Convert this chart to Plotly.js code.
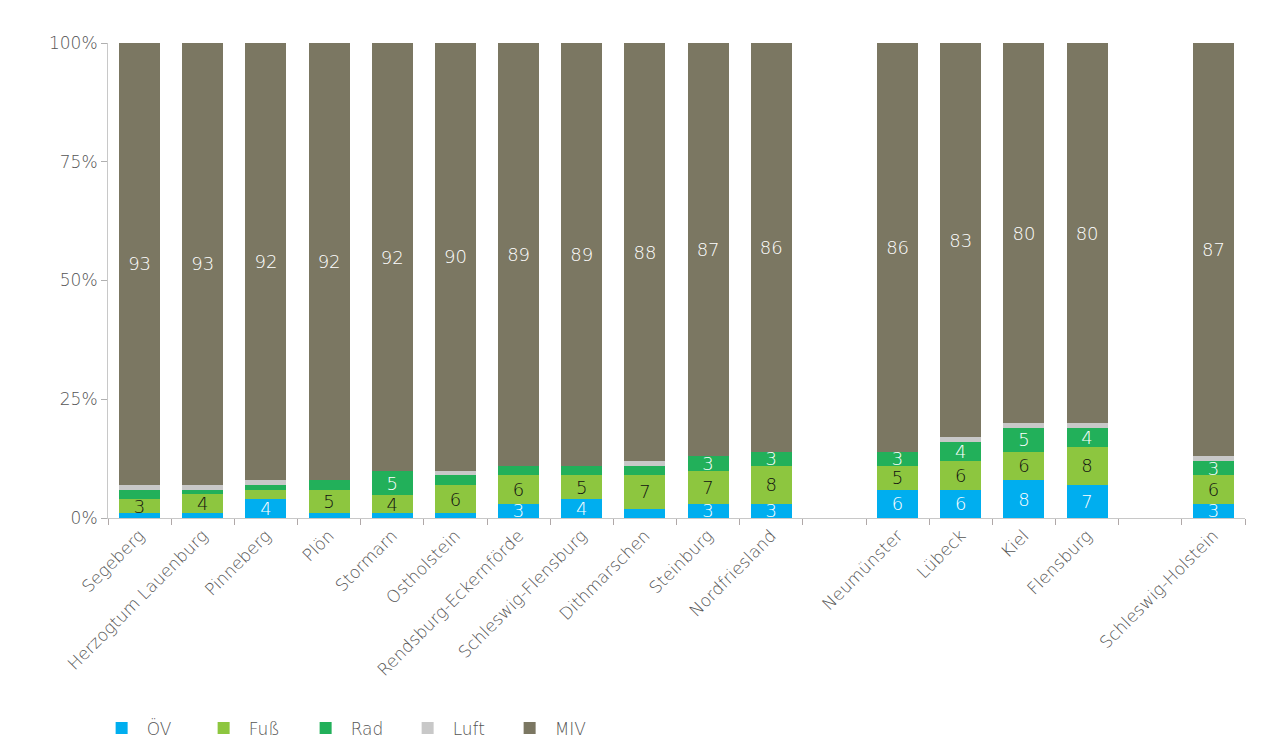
<!DOCTYPE html>
<html>
<head>
<meta charset="utf-8">
<script src="https://cdn.plot.ly/plotly-3.0.1.min.js"></script>
<style>html,body{margin:0;padding:0;background:#fff;}#chart{width:1269px;height:745px;}</style>
</head>
<body>
<div id="chart"></div>
<script>
const categories = ["Segeberg","Herzogtum Lauenburg","Pinneberg","Plön","Stormarn","Ostholstein","Rendsburg-Eckernförde","Schleswig-Flensburg","Dithmarschen","Steinburg","Nordfriesland"," ","Neumünster","Lübeck","Kiel","Flensburg","  ","Schleswig-Holstein"];
const oev  = [1, 1, 4, 1, 1, 1, 3, 4, 2, 3, 3, null, 6, 6, 8, 7, null, 3];
const fuss = [3, 4, 2, 5, 4, 6, 6, 5, 7, 7, 8, null, 5, 6, 6, 8, null, 6];
const rad  = [2, 1, 1, 2, 5, 2, 2, 2, 2, 3, 3, null, 3, 4, 5, 4, null, 3];
const luft = [1, 1, 1, 0, 0, 1, 0, 0, 1, 0, 0, null, 0, 1, 1, 1, null, 1];
const miv  = [93, 93, 92, 92, 92, 90, 89, 89, 88, 87, 86, null, 86, 83, 80, 80, null, 87];
const seriesNames = ["ÖV","Fuß","Rad","Luft","MIV"];
const colors = ["#00aeef","#8dc63f","#22b05a","#c8c8c8","#7b7762"];
const textColors = ["#ffffff","#111111","#ffffff","#333333","#ffffff"];
const allSeries = [oev, fuss, rad, luft, miv];

const FONT = "DejaVu Sans, Open Sans, sans-serif";

const traces = allSeries.map((vals, i) => ({
  type: "bar",
  name: seriesNames[i],
  x: categories,
  y: vals,
  marker: {color: colors[i]},
  text: vals.map(v => (v !== null && v >= 3) ? String(v) : ""),
  textposition: "inside",
  insidetextanchor: "middle",
  textangle: 0,
  textfont: {color: textColors[i], size: 18, family: FONT, weight: 300},
  hoverinfo: "name+y"
}));

const layout = {
  width: 1269, height: 745,
  margin: {l: 108, r: 24, t: 43, b: 227, autoexpand: false},
  barmode: "stack",
  barnorm: "percent",
  bargap: 0.35,
  paper_bgcolor: "#ffffff",
  plot_bgcolor: "#ffffff",
  font: {family: FONT, color: "#555555", size: 17, weight: 300},
  uniformtext: {minsize: 16, mode: "show"},
  xaxis: {
    type: "category",
    tickangle: -45,
    tickson: "boundaries",
    ticks: "outside",
    ticklen: 6,
    tickcolor: "#b0a8a8",
    showline: true,
    linecolor: "#c8c8c8",
    showgrid: false,
    automargin: false,
    tickfont: {size: 17, color: "#555555", family: FONT, weight: 300}
  },
  yaxis: {
    range: [0, 100],
    tickvals: [0, 25, 50, 75, 100],
    ticktext: ["0%", "25%", "50%", "75%", "100%"],
    ticks: "outside",
    ticklen: 6,
    tickcolor: "#b0b0b0",
    showline: true,
    linecolor: "#c8c8c8",
    showgrid: false,
    zeroline: false,
    automargin: false,
    tickfont: {size: 17, color: "#555555", family: FONT, weight: 300}
  },
  showlegend: true,
  legend: {
    orientation: "h",
    x: -0.01, xanchor: "left",
    y: -0.405, yanchor: "top",
    traceorder: "normal",
    entrywidth: 47,
    font: {size: 17, color: "#555555", family: FONT, weight: 300},
    itemwidth: 40
  }
};

Plotly.newPlot("chart", traces, layout, {displayModeBar: false, staticPlot: true});
</script>
</body>
</html>
